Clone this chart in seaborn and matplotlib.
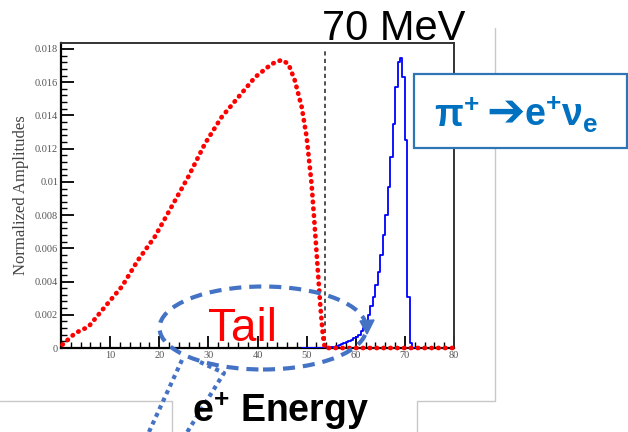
import numpy as np
import pandas as pd
import matplotlib
matplotlib.use("Agg")
import matplotlib.pyplot as plt
import seaborn as sns
from matplotlib.patches import Ellipse, Rectangle, Polygon
from matplotlib.lines import Line2D

# ---- data ----
# muon-decay (Michel) spectrum, red dotted curve
michel_x = [0.3, 2.9, 5.6, 9.0, 12.4, 15.7, 19.1, 22.5, 25.9, 29.3, 32.7, 36.1,
            39.5, 42.9, 44.9, 46.3, 47.6, 49.0, 50.0, 51.0, 51.6, 52.2, 52.8,
            53.3, 53.7, 60, 70, 80]
michel_y = [0.0002, 0.0009, 0.00128, 0.0025, 0.0037, 0.0053, 0.0067, 0.0085,
            0.0103, 0.0123, 0.0139, 0.0151, 0.0163, 0.0171, 0.01734, 0.0171,
            0.0161, 0.0145, 0.0127, 0.0099, 0.0075, 0.0050, 0.0025, 0.0008,
            0.0, 0.0, 0.0, 0.0]

# pi -> e nu histogram (blue), bins of 0.5 MeV starting at 49 MeV
pienu_left = [49.0, 49.5, 50.0, 50.5, 51.0, 51.5, 52.0, 52.5, 53.0, 53.5,
              54.0, 54.5, 55.0, 55.5, 56.0, 56.5, 57.0, 57.5, 58.0, 58.5,
              59.0, 59.5, 60.0, 60.5, 61.0, 61.5, 62.0, 62.5, 63.0, 63.5,
              64.0, 64.5, 65.0, 65.5, 66.0, 66.5, 67.0, 67.5, 68.0, 68.5,
              69.0, 69.5, 70.0, 70.5, 71.0, 71.5]
pienu_y = [0, 0, 0, 0, 0, 0, 0, 0, 0, 0,
           0.00001, 0.00003, 0.00005, 0.00008, 0.00012, 0.00016, 0.00022, 0.00028, 0.00035, 0.00042,
           0.0005, 0.00058, 0.00068, 0.0008, 0.0010, 0.0012, 0.0016, 0.0020, 0.0025, 0.0031,
           0.0038, 0.0046, 0.0056, 0.0068, 0.0080, 0.0097, 0.0115, 0.0135, 0.0157, 0.0172,
           0.01745, 0.0163, 0.0125, 0.0031, 0.0003, 0.0]
bin_w = 0.5

x_ticks = [0, 10, 20, 30, 40, 50, 60, 70, 80]
x_ticklabels = ["", "10", "20", "30", "40", "50", "60", "70", "80"]
y_ticks = [0, 0.002, 0.004, 0.006, 0.008, 0.01, 0.012, 0.014, 0.016, 0.018]
y_ticklabels = ["0", "0.002", "0.004", "0.006", "0.008", "0.01", "0.012",
                "0.014", "0.016", "0.018"]
threshold = 53.7

# ---- style ----
sns.set_style("ticks")
plt.rcParams["font.family"] = ["Liberation Sans", "DejaVu Sans"]
plt.rcParams["mathtext.fontset"] = "custom"
plt.rcParams["mathtext.rm"] = "Liberation Sans"
plt.rcParams["mathtext.it"] = "Liberation Sans:italic"
plt.rcParams["mathtext.bf"] = "Liberation Sans:bold"

W, H = 628, 432
fig = plt.figure(figsize=(W / 100, H / 100), dpi=100)
fig.patch.set_facecolor("white")


def P(x, y):
    return (x / W, 1 - y / H)


ax = fig.add_axes([61 / W, 1 - 348 / H, (454 - 61) / W, (348 - 43) / H])
ax.set_facecolor("white")

# red dotted spectrum
sns.lineplot(x=michel_x, y=michel_y, ax=ax, color="#ff0000", linewidth=3.4,
             linestyle=(0, (0.1, 1.35)), dash_capstyle="round",
             sort=False, estimator=None, clip_on=False, zorder=4)

# blue histogram
df = pd.DataFrame({"E": np.array(pienu_left) + bin_w / 2, "w": pienu_y})
edges = list(pienu_left) + [pienu_left[-1] + bin_w]
sns.histplot(data=df, x="E", weights="w", bins=edges, element="step",
             fill=False, color="#0000ff", linewidth=1.3, ax=ax, zorder=3)

ax.axvline(threshold, ymax=0.98, color="#333333", linestyle=(0, (2.5, 2)),
           linewidth=1.2, zorder=2)

ax.set_xlim(0, 80)
ax.set_ylim(0, 0.01836)
ax.set_xticks(x_ticks)
ax.set_xticklabels(x_ticklabels)
ax.set_yticks(y_ticks)
ax.set_yticklabels(y_ticklabels)
ax.set_xticks(np.arange(0, 80.1, 2), minor=True)
ax.set_yticks(np.arange(0, 0.0184, 0.0004), minor=True)
ax.tick_params(which="major", direction="in", length=9, width=1.3,
               color="black", labelsize=7.5, labelcolor="#555555", pad=2)
ax.tick_params(which="minor", direction="in", length=4.5, width=1.0,
               color="black")
for lab in ax.get_xticklabels() + ax.get_yticklabels():
    lab.set_fontfamily("Liberation Serif")
ax.set_xlabel("")
ax.set_ylabel("Normalized Amplitudes", fontfamily="Liberation Serif",
              fontsize=12, color="#444444")
ax.yaxis.label.set_va("center")
ax.yaxis.set_label_coords(-0.102, 0.5)
for s in ["left", "bottom"]:
    ax.spines[s].set_color("black")
    ax.spines[s].set_linewidth(1.6)
for s in ["top", "right"]:
    ax.spines[s].set_color("#333333")
    ax.spines[s].set_linewidth(1.4)

# ---- slide decorations ----
gray = "#c8c8c8"
fig.add_artist(Line2D([0, 172 / W, 172 / W], [1 - 401 / H, 1 - 401 / H, 0],
                      color=gray, lw=1.0, transform=fig.transFigure))
fig.add_artist(Line2D([495 / W, 495 / W, 417 / W, 417 / W],
                      [1 - 28 / H, 1 - 401 / H, 1 - 401 / H, 0],
                      color=gray, lw=1.0, transform=fig.transFigure, zorder=1))

fig.text(*P(322, 40), "70 MeV", fontsize=30, color="black",
         ha="left", va="baseline")

box = Rectangle(P(414, 148), 213 / W, 74 / H, transform=fig.transFigure,
                facecolor="white", edgecolor="#2E75B6", lw=1.6, zorder=10)
fig.add_artist(box)
pcol = "#0070C0"
fig.text(*P(434, 127), r"$\mathbf{\pi^{+}}$", fontsize=27, color=pcol,
         ha="left", va="baseline", zorder=11)
fig.text(*P(486, 125), "\u2794", fontsize=33, color=pcol,
         fontfamily=["DejaVu Sans"], fontweight="bold",
         ha="left", va="baseline", zorder=11)
fig.text(*P(524, 127), r"$\mathbf{e^{+}\nu_{e}}$", fontsize=27, color=pcol,
         ha="left", va="baseline", zorder=11)

blue = "#4472C4"
ell = Ellipse(P(263, 328), 207 / W, 83 / H, transform=fig.transFigure,
              fill=False, edgecolor=blue, lw=3.0, linestyle=(0, (2.9, 1.9)),
              zorder=6)
fig.add_artist(ell)
fig.add_artist(Polygon([P(360, 321), P(374, 320), P(367, 334)], closed=True,
                       transform=fig.transFigure, color=blue, zorder=6))

fig.text(*P(208, 341), "Tail", fontsize=33, color="#ff0000",
         ha="left", va="baseline", zorder=7)

fig.add_artist(Line2D([182 / W, 148 / W], [1 - 360 / H, 1 - 434 / H],
                      color=blue, lw=3.0, linestyle=(0, (1, 1)),
                      transform=fig.transFigure, zorder=6))
fig.add_artist(Line2D([200 / W, 224 / W, 186 / W],
                      [1 - 362 / H, 1 - 373 / H, 1 - 434 / H],
                      color=blue, lw=3.0, linestyle=(0, (1, 1)),
                      transform=fig.transFigure, zorder=6))

fig.text(*P(192, 422), r"$\mathbf{e^{+}}$ $\mathbf{Energy}$", fontsize=27,
         color="black", ha="left", va="baseline", zorder=7)

fig.savefig("out.png", dpi=100, facecolor="white")
